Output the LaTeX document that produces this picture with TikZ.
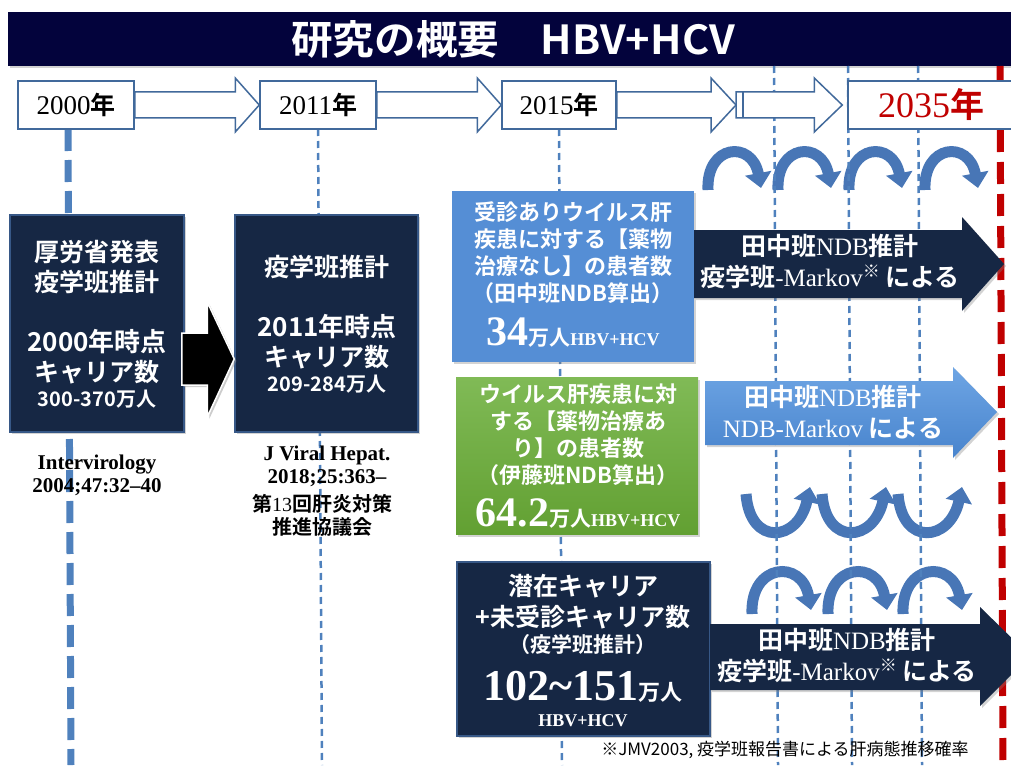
\documentclass[tikz,border=0pt]{standalone}
\usepackage{fontspec}
\setmainfont{Noto Sans CJK JP}[BoldFont={Noto Sans CJK JP Bold}]
\newfontfamily\srf{Liberation Serif}
\usetikzlibrary{arrows.meta,shadows,calc}
\newcommand\fsz[1]{\fontsize{#1}{#1}\selectfont}
\newcommand\kome{\raisebox{0.35em}{\mdseries\fsz{17}※}}
\definecolor{titlebg}{RGB}{3,3,60}
\definecolor{navy}{RGB}{22,39,68}
\definecolor{navyedge}{RGB}{55,88,135}
\definecolor{skyfill}{RGB}{85,142,213}
\definecolor{lineblue}{RGB}{79,129,189}
\definecolor{yearedge}{RGB}{65,105,155}
\definecolor{redline}{RGB}{192,0,0}
\definecolor{curvefill}{RGB}{72,118,182}
\definecolor{grasstop}{RGB}{128,186,86}
\definecolor{grassbot}{RGB}{98,160,50}
\definecolor{skytop}{RGB}{110,165,228}
\definecolor{skybot}{RGB}{72,132,205}
\begin{document}
\begin{tikzpicture}[x=1pt,y=-1pt,
  yearbox/.style={draw=yearedge,line width=1.5pt,fill=white,minimum height=48pt,inner sep=0pt},
  hollow/.style={draw=yearedge,line width=1.5pt,fill=white,line join=miter},
  shade/.style={drop shadow={shadow xshift=2pt,shadow yshift=-2pt,opacity=0.35}},
  navybox/.style={fill=navy,draw=navyedge,line width=1.5pt,inner sep=0pt,shade},
  wtxt/.style={text=white,font=\bfseries\fsz{25},inner sep=0pt},
  wsmall/.style={text=white,font=\bfseries\fsz{22},inner sep=0pt},
  cite/.style={text=black,font=\srf\bfseries\fsz{21},inner sep=0pt},
  citejp/.style={text=black,font=\bfseries\fsz{20},inner sep=0pt},
  arrtxt/.style={text=white,font=\bfseries\fsz{25},inner sep=0pt},
  thickdash/.style={draw=lineblue,line width=7pt,dash pattern=on 22pt off 9pt},
  thindash/.style={draw=lineblue,line width=2.5pt,dash pattern=on 7pt off 5pt},
  reddash/.style={draw=redline,line width=7pt,dash pattern=on 22pt off 10pt},
  curve/.style={draw=curvefill,line width=11pt,-{Triangle[width=26pt,length=15pt]}}
]
\useasboundingbox (0,0) rectangle (1011,765);

% title bar
\fill[titlebg,shade] (8,12) rectangle (1016,66);
\node[text=white,font=\bfseries\fsz{40},inner sep=0pt,xscale=1.04] (title) at (513,39) {研究の概要　HBV+HCV};

% curved arrows (below the dashed lines)
\foreach \x in {708,778,849,925}
  \draw[curve] (\x,190) .. controls (\x-2,144) and (\x+44,140) .. (\x+53,188);
\foreach \x in {746,822,898}
  \draw[curve] (\x,494) .. controls (\x+4,547) and (\x+52,542) .. (\x+64,487);
\foreach \x in {752,828,903}
  \draw[curve] (\x,614) .. controls (\x-2,563) and (\x+50,559) .. (\x+59,610);

% vertical dashed lines
\draw[thickdash] (68,129) -- (71,765);
\draw[thindash] (318,129) -- (322,765);
\draw[thindash] (559,129) -- (562,765);
\draw[thindash] (774,66) -- (778,765);
\draw[thindash] (848,66) -- (852,765);
\draw[thindash] (918,66) -- (922,765);
\draw[reddash] (1000,66) -- (1003,765);

% year boxes
\node[yearbox,minimum width=116pt] (y2000) at (76,105) {{\srf\fsz{27}2000}{\bfseries\fsz{25}年}};
\node[yearbox,minimum width=116pt] (y2011) at (318,105) {{\srf\fsz{27}2011}{\bfseries\fsz{25}年}};
\node[yearbox,minimum width=114pt] (y2015) at (559,105) {{\srf\fsz{27}2015}{\bfseries\fsz{25}年}};
\node[yearbox,minimum width=166pt,text=redline] (y2035) at (931,105) {{\srf\fsz{36}2035}{\bfseries\fsz{34}年}};
\coordinate (mid) at (736,105);

% hollow arrows between years
\draw[hollow] ($(y2000.east)+(0,-13)$) -- ($(y2011.west)+(-24,-13)$) -- ($(y2011.west)+(-24,-27)$) -- (y2011.west)
  -- ($(y2011.west)+(-24,27)$) -- ($(y2011.west)+(-24,13)$) -- ($(y2000.east)+(0,13)$) -- cycle;
\draw[hollow] ($(y2011.east)+(0,-13)$) -- ($(y2015.west)+(-24,-13)$) -- ($(y2015.west)+(-24,-27)$) -- (y2015.west)
  -- ($(y2015.west)+(-24,27)$) -- ($(y2015.west)+(-24,13)$) -- ($(y2011.east)+(0,13)$) -- cycle;
\draw[hollow] ($(y2015.east)+(0,-13)$) -- ($(mid)+(-25,-13)$) -- ($(mid)+(-25,-27)$) -- (mid)
  -- ($(mid)+(-25,27)$) -- ($(mid)+(-25,13)$) -- ($(y2015.east)+(0,13)$) -- cycle;
\draw[hollow] ($(mid)+(0,-13)$) -- ($(y2035.west)+(-33,-13)$) -- ($(y2035.west)+(-33,-27)$) -- ($(y2035.west)+(-5,0)$)
  -- ($(y2035.west)+(-33,27)$) -- ($(y2035.west)+(-33,13)$) -- ($(mid)+(0,13)$) -- cycle;
\draw[yearedge,line width=2.5pt] ($(mid)+(7,-13)$) -- ($(mid)+(7,13)$);

% left boxes
\node[navybox,minimum width=174pt,minimum height=217pt] (boxA) at (97,323.5) {};
\node[navybox,minimum width=183pt,minimum height=217pt] (boxB) at (326.5,323.5) {};
\coordinate (bs) at ($(boxA.east)+(-3,35.5)$);
\coordinate (bt) at ($(boxB.west)+(0,35.5)$);
\fill[black!40,opacity=0.5] ($(bs)+(2,-24)$) -- ($(bt)+(-25,-24)$) -- ($(bt)+(-25,-55)$) -- ($(bt)+(2,2)$)
  -- ($(bt)+(-25,60)$) -- ($(bt)+(-25,28)$) -- ($(bs)+(2,28)$) -- cycle;
\draw[fill=black,draw=white,line width=1.5pt,line join=miter] ($(bs)+(0,-26)$) -- ($(bt)+(-27,-26)$) -- ($(bt)+(-27,-57)$) -- (bt)
  -- ($(bt)+(-27,58)$) -- ($(bt)+(-27,26)$) -- ($(bs)+(0,26)$) -- cycle;

\node[wtxt] (a1) at (97,252) {厚労省発表};
\node[wtxt] (a2) at (97,282) {疫学班推計};
\node[wtxt,font=\bfseries\fsz{26}] (a3) at (97,342) {2000年時点};
\node[wtxt] (a4) at (97,372) {キャリア数};
\node[wtxt,font=\bfseries\fsz{20}] (a5) at (97,399) {300-370万人};
\node[wtxt] (b1) at (327,267) {疫学班推計};
\node[wtxt,font=\bfseries\fsz{26}] (b2) at (327,327) {2011年時点};
\node[wtxt] (b3) at (327,357) {キャリア数};
\node[wtxt,font=\bfseries\fsz{20}] (b4) at (327,384) {209-284万人};

% citations
\node[cite] (c1) at (97,465) {Intervirology};
\node[cite] (c2) at (97,487) {2004;47:32–40};
\node[cite] (c3) at (327,455) {J Viral Hepat.};
\node[cite] (c4) at (327,478) {2018;25:363–};
\node[citejp] (c5) at (322,504) {第{\srf\mdseries 13}回肝炎対策};
\node[citejp] (c6) at (322,527) {推進協議会};

% right boxes
\node[fill=skyfill,inner sep=0pt,minimum width=242pt,minimum height=171pt,shade] (blue) at (573,276.5) {};
\node[top color=grasstop,bottom color=grassbot,inner sep=0pt,minimum width=242pt,minimum height=157pt,shade] (green) at (577,456) {};
\node[navybox,minimum width=253pt,minimum height=174pt] (pot) at (583.5,649) {};

% block arrows
\fill[navy,shade] (694,230) -- (962,230) -- (962,217) -- (1004,264) -- (962,311) -- (962,298) -- (694,298) -- cycle;
\path[top color=skytop,bottom color=skybot,shade] (705,381) -- (953,381) -- (953,367) -- (997,412) -- (953,458) -- (953,445) -- (705,445) -- cycle;
\fill[navy,shade] (710,624) -- (980,624) -- (980,607) -- (1030,656) -- (980,706) -- (980,690) -- (710,690) -- cycle;

% blue box text
\node[wsmall] (t1) at (573,212) {受診ありウイルス肝};
\node[wsmall] (t2) at (573,239) {疾患に対する【薬物};
\node[wsmall] (t3) at (573,266) {治療なし】の患者数};
\node[wsmall] (t4) at (573,293) {（田中班NDB算出）};
\node[wsmall] (t5) at (573,333) {{\srf\fsz{42}34}{\fsz{21}万人}{\srf\fsz{18}HBV+HCV}};

% green box text
\node[wsmall] (g1) at (578,394) {ウイルス肝疾患に対};
\node[wsmall] (g2) at (578,421) {する【薬物治療あ};
\node[wsmall] (g3) at (578,448) {り】の患者数};
\node[wsmall] (g4) at (578,475) {（伊藤班NDB算出）};
\node[wsmall] (g5) at (578,514) {{\srf\fsz{42}64.2}{\fsz{21}万人}{\srf\fsz{18}HBV+HCV}};

% potential carriers text
\node[wtxt] (p1) at (583,586) {潜在キャリア};
\node[wtxt] (p2) at (583,617) {+未受診キャリア数};
\node[wsmall,font=\bfseries\fsz{21}] (p3) at (583,645) {（疫学班推計）};
\node[wtxt] (p4) at (583,687) {{\srf\fsz{44}102\char`\~151}{\fsz{22}万人}};
\node[wtxt,font=\srf\bfseries\fsz{18}] (p5) at (583,721) {HBV+HCV};

% arrow texts
\node[arrtxt] (r1) at (830,246) {田中班{\srf\mdseries NDB}推計};
\node[arrtxt] (r2) at (830,277) {疫学班{\srf\mdseries -Markov}\kome\ による};
\node[arrtxt] (s1) at (833,397) {田中班{\srf\mdseries NDB}推計};
\node[arrtxt] (s2) at (833,428) {{\srf\mdseries NDB-Markov} による};
\node[arrtxt] (u1) at (847,640) {田中班{\srf\mdseries NDB}推計};
\node[arrtxt] (u2) at (847,671) {疫学班{\srf\mdseries -Markov}\kome\ による};

% footnote
\node[text=black,font=\fsz{17},inner sep=0pt] (note) at (785,750) {※JMV2003, 疫学班報告書による肝病態推移確率};
\end{tikzpicture}
\end{document}
